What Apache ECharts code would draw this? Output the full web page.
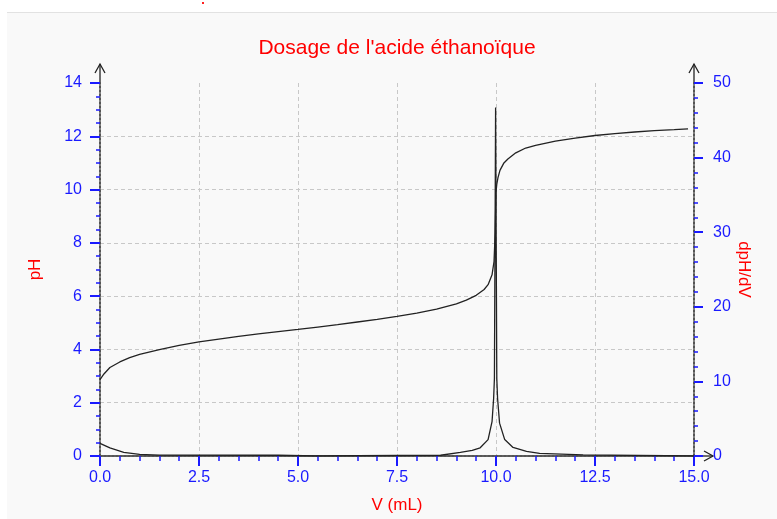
<!DOCTYPE html>
<html>
<head>
<meta charset="utf-8">
<script src="https://cdn.jsdelivr.net/npm/echarts@6/dist/echarts.min.js"></script>
<style>
  html, body { margin: 0; padding: 0; background: #fff; }
  #chart { width: 777px; height: 519px; }
</style>
</head>
<body>
<div id="chart"></div>
<script>
// courbe pH = f(V)
var volPH = [0, 0.1, 0.25, 0.5, 0.75, 1.0, 1.5, 2.0, 2.5, 3.0, 3.5, 4.0, 4.5, 5.0, 5.5, 6.0, 6.5, 7.0, 7.5,
  8.0, 8.5, 9.0, 9.25, 9.5, 9.7, 9.8, 9.9, 9.95, 9.98, 10.0, 10.02, 10.05, 10.1, 10.2, 10.3, 10.5, 10.75,
  11.0, 11.5, 12.0, 12.5, 13.0, 13.5, 14.0, 14.5, 14.85];
var ph = [2.87, 3.08, 3.32, 3.53, 3.69, 3.81, 3.99, 4.15, 4.28, 4.39, 4.49, 4.58, 4.67, 4.75, 4.84, 4.93, 5.03,
  5.13, 5.24, 5.36, 5.51, 5.71, 5.85, 6.03, 6.25, 6.43, 6.80, 7.30, 8.40, 9.90, 10.20, 10.45, 10.72, 11.00,
  11.15, 11.38, 11.56, 11.66, 11.82, 11.93, 12.03, 12.10, 12.16, 12.21, 12.25, 12.28];

// courbe dpH/dV
var volD = [0, 0.25, 0.6, 1.0, 1.5, 4.5, 4.55, 5.45, 5.5, 8.6, 8.65, 9.1, 9.4, 9.6, 9.8, 9.9, 9.94, 9.96,
  9.99, 10.02, 10.04, 10.09, 10.22, 10.43, 10.77, 11.1, 11.15, 12.2, 12.25, 15.0];
var dph = [1.7, 1.1, 0.5, 0.22, 0.12, 0.1, 0.0, 0.0, 0.1, 0.1, 0.25, 0.5, 0.75, 1.1, 2.2, 4.6, 7.7, 10.4,
  46.7, 10.4, 7.7, 4.4, 2.2, 1.15, 0.63, 0.35, 0.15, 0.15, 0.0, 0.0];

var title = "Dosage de l'acide éthanoïque";
var blue = "#1a1aff";
var font = "'Liberation Sans', Arial, sans-serif";

var chart = echarts.init(document.getElementById("chart"));

function pairs(xs, ys) {
  return xs.map(function (x, i) { return [x, ys[i]]; });
}

var tickStyle = { color: blue, width: 2 };
var minorStyle = { color: blue, width: 1.5 };
var axisLineStyle = { color: "#555", width: 2, type: "dotted" };
var gridStyle = { color: "#c8c8c8", width: 1, type: [4, 3] };

var option = {
  animation: false,
  backgroundColor: "#f9f9f9",
  title: {
    text: title,
    left: 392,
    top: 33,
    textAlign: "center",
    textStyle: { color: "#ff0000", fontSize: 21, fontWeight: "normal", fontFamily: font },
  },
  grid: { left: 100, right: 83, top: 83, bottom: 61 },
  xAxis: [
    {
      type: "value",
      min: 0,
      max: 15,
      interval: 2.5,
      name: "V (mL)",
      nameLocation: "middle",
      nameGap: 41,
      nameTextStyle: { color: "#ff0000", fontSize: 17, fontFamily: font },
      axisLine: { onZero: false, lineStyle: axisLineStyle },
      axisTick: { length: 10, lineStyle: tickStyle },
      minorTick: { show: true, splitNumber: 5, length: 5, lineStyle: minorStyle },
      axisLabel: {
        color: blue, fontSize: 16, fontFamily: font, margin: 14,
        formatter: function (v) { return v.toFixed(1); },
      },
      splitLine: { show: true, showMinLine: false, showMaxLine: false, lineStyle: gridStyle },
    },
    {
      type: "value",
      position: "top",
      min: 0,
      max: 15,
      axisLine: { show: true, lineStyle: axisLineStyle },
      axisTick: { show: false },
      axisLabel: { show: false },
      splitLine: { show: false },
    },
  ],
  yAxis: [
    {
      type: "value",
      min: 0,
      max: 14,
      interval: 2,
      name: "pH",
      nameLocation: "middle",
      nameGap: 56,
      nameTextStyle: { color: "#ff0000", fontSize: 17, fontFamily: font },
      axisLine: { show: true, onZero: false, lineStyle: axisLineStyle },
      axisTick: { show: true, length: 10, lineStyle: tickStyle },
      minorTick: { show: true, splitNumber: 4, length: 4, lineStyle: minorStyle },
      axisLabel: { color: blue, fontSize: 16, fontFamily: font, margin: 18 },
      splitLine: { show: true, showMinLine: false, showMaxLine: false, lineStyle: gridStyle },
    },
    {
      type: "value",
      position: "right",
      min: 0,
      max: 50,
      interval: 10,
      name: "dpH/dV",
      nameLocation: "middle",
      nameGap: 41,
      nameRotate: -90,
      nameMoveOverlap: false,
      nameTextStyle: { color: "#ff0000", fontSize: 17, fontFamily: font },
      axisLine: { show: true, onZero: false, lineStyle: axisLineStyle },
      axisTick: { show: true, length: 9, lineStyle: tickStyle },
      minorTick: { show: true, splitNumber: 5, length: 4, lineStyle: minorStyle },
      axisLabel: { color: blue, fontSize: 16, fontFamily: font, margin: 19 },
      splitLine: { show: false },
    },
  ],
  series: [
    {
      name: "pH",
      type: "line",
      xAxisIndex: 0,
      yAxisIndex: 0,
      showSymbol: false,
      symbol: "none",
      lineStyle: { color: "#222", width: 1.3 },
      data: pairs(volPH, ph),
    },
    {
      name: "dpH/dV",
      type: "line",
      xAxisIndex: 0,
      yAxisIndex: 1,
      showSymbol: false,
      symbol: "none",
      lineStyle: { color: "#222", width: 1.3 },
      data: pairs(volD, dph),
    },
  ],
};

chart.setOption(option);

// fleches au bout des axes + cadre de la page
var p0 = chart.convertToPixel({ gridIndex: 0 }, [0, 0]);
var p1 = chart.convertToPixel({ gridIndex: 0 }, [15, 14]);
var ext = 19;
var arrowStyle = { stroke: "#222", lineWidth: 1.3, fill: null };

chart.setOption({
  graphic: [
    { type: "rect", shape: { x: 0, y: 0, width: 777, height: 12 }, style: { fill: "#fff" }, silent: true },
    { type: "rect", shape: { x: 0, y: 0, width: 7, height: 519 }, style: { fill: "#fff" }, silent: true },
    { type: "line", shape: { x1: 7, y1: 12.5, x2: 777, y2: 12.5 }, style: { stroke: "#e2e2e2", lineWidth: 1 } },
    { type: "rect", shape: { x: 202, y: 2, width: 2, height: 2 }, style: { fill: "#ff2020" } },
    // axe gauche
    { type: "line", shape: { x1: p0[0], y1: p1[1], x2: p0[0], y2: p1[1] - ext }, style: arrowStyle },
    { type: "polyline", shape: { points: [[p0[0] - 5, p1[1] - ext + 9], [p0[0], p1[1] - ext], [p0[0] + 5, p1[1] - ext + 9]] }, style: arrowStyle },
    // axe droit
    { type: "line", shape: { x1: p1[0], y1: p1[1], x2: p1[0], y2: p1[1] - ext }, style: arrowStyle },
    { type: "polyline", shape: { points: [[p1[0] - 5, p1[1] - ext + 9], [p1[0], p1[1] - ext], [p1[0] + 5, p1[1] - ext + 9]] }, style: arrowStyle },
    // axe des abscisses
    { type: "line", shape: { x1: p1[0], y1: p0[1], x2: p1[0] + ext, y2: p0[1] }, style: arrowStyle },
    { type: "polyline", shape: { points: [[p1[0] + ext - 9, p0[1] - 5], [p1[0] + ext, p0[1]], [p1[0] + ext - 9, p0[1] + 5]] }, style: arrowStyle },
  ],
});
</script>
</body>
</html>
